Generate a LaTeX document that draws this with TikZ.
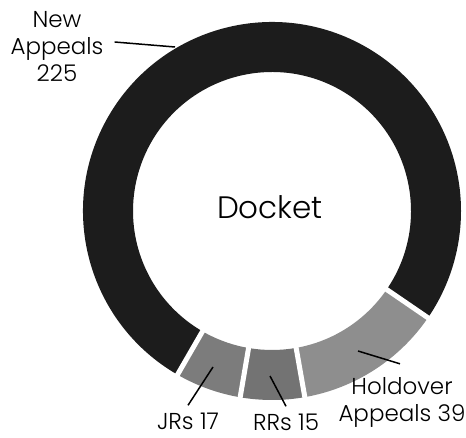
\documentclass[tikz,border=0pt]{standalone}
\usepackage{fontspec}
\IfFontExistsTF{Poppins Light}{\setmainfont{Poppins Light}}{\setmainfont{Poppins}}
\usetikzlibrary{calc}

\definecolor{newcol}{HTML}{1C1C1C}
\definecolor{holdcol}{HTML}{8E8E8E}
\definecolor{rrcol}{HTML}{737373}
\definecolor{jrcol}{HTML}{7C7C7C}

% ring sector between two angles (y axis points down)
\newcommand\ringseg[3]{%
  \fill[#3] ($(c)+(#1:\Ro)$) arc[start angle=#1,end angle=#2,radius=\Ro]
    -- ($(c)+(#2:\Ri)$) arc[start angle=#2,end angle=#1,radius=\Ri] -- cycle;}

\begin{document}
\begin{tikzpicture}[x=1pt,y=-1pt,
  lbl/.style={font=\fontsize{23}{27}\selectfont, inner sep=0pt, align=center},
  title/.style={font=\fontsize{31}{36}\selectfont, inner sep=0pt},
  leader/.style={line width=1.5pt, black},
  gap/.style={white, line width=5pt}]
\useasboundingbox[fill=white] (0,0) rectangle (466,438);
\coordinate (c) at (272,211);
\def\Ro{189}
\def\Ri{139}

% donut segments
\ringseg{34.4}{80}{holdcol}
\ringseg{80}{99.7}{rrcol}
\ringseg{99.7}{120}{jrcol}
\ringseg{120}{394.4}{newcol}

% white separators
\foreach \a in {34.4,80,99.7,120}
  \draw[gap] ($(c)+(\a:134)$) -- ($(c)+(\a:194)$);

% centre title
\node[title] (docket) at (270,207) {Docket};

% labels
\node[lbl] (newlbl) at (57,46) {New\\Appeals\\225};
\node[lbl] (holdlbl) at (402,402) {Holdover\\Appeals 39};
\node[lbl, anchor=base] (rrlbl) at (286,430) {RRs 15};
\node[lbl, anchor=base] (jrlbl) at (188,429) {JRs 17};

% leader end points on the ring
\coordinate (newtip) at (175,47);
\coordinate (holdtip) at (358,351);
\coordinate (rrtip) at (270,376);
\coordinate (jrtip) at (213,367);

% leaders
\draw[leader] ([xshift=11pt,yshift=4pt]newlbl.east) -- (newtip);
\draw[leader] ([xshift=-2pt,yshift=13pt]holdlbl.north) -- (holdtip);
\draw[leader] ([yshift=7pt]rrlbl.north) -- (rrtip);
\draw[leader] ([yshift=7pt]jrlbl.north) -- (jrtip);
\end{tikzpicture}
\end{document}
